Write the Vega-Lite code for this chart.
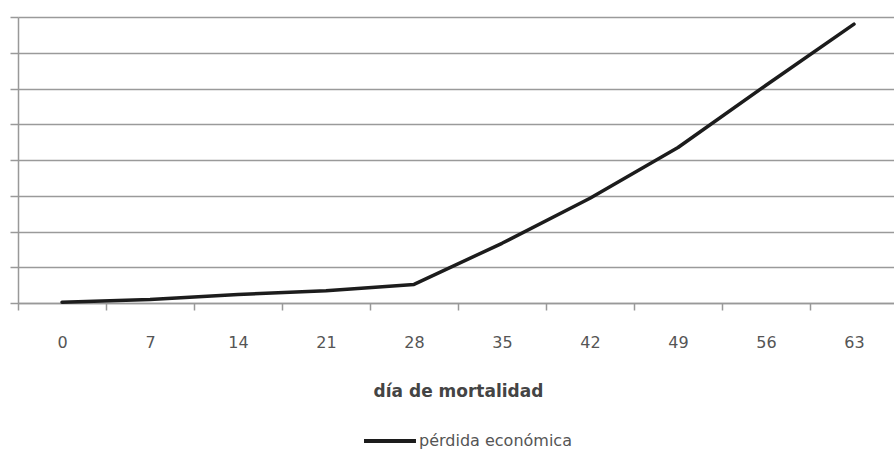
{
  "$schema": "https://vega.github.io/schema/vega-lite/v6.json",
  "width": 880,
  "height": 286,
  "autosize": {"type": "none"},
  "padding": {"left": 18, "top": 17, "right": 0, "bottom": 146},
  "background": "white",
  "data": {
    "values": [
      {"dia": 0, "perdida": 0.02, "serie": "pérdida económica"},
      {"dia": 7, "perdida": 0.1, "serie": "pérdida económica"},
      {"dia": 14, "perdida": 0.24, "serie": "pérdida económica"},
      {"dia": 21, "perdida": 0.34, "serie": "pérdida económica"},
      {"dia": 28, "perdida": 0.52, "serie": "pérdida económica"},
      {"dia": 35, "perdida": 1.67, "serie": "pérdida económica"},
      {"dia": 42, "perdida": 2.93, "serie": "pérdida económica"},
      {"dia": 49, "perdida": 4.35, "serie": "pérdida económica"},
      {"dia": 56, "perdida": 6.09, "serie": "pérdida económica"},
      {"dia": 63, "perdida": 7.8, "serie": "pérdida económica"}
    ]
  },
  "config": {
    "view": {"stroke": null},
    "font": "DejaVu Sans"
  },
  "mark": {"type": "line", "strokeWidth": 3.5, "strokeCap": "round", "strokeJoin": "round"},
  "encoding": {
    "x": {
      "field": "dia",
      "type": "ordinal",
      "scale": {"type": "band", "paddingInner": 0, "paddingOuter": 0},
      "axis": {
        "title": "día de mortalidad",
        "labelAngle": 0,
        "tickBand": "extent",
        "grid": false,
        "domainColor": "#999999",
        "domainWidth": 1.5,
        "tickColor": "#999999",
        "tickWidth": 1.5,
        "tickSize": 7,
        "labelPadding": 24,
        "labelFont": "DejaVu Sans",
        "labelFontSize": 16,
        "labelColor": "#555555",
        "titleFont": "DejaVu Sans",
        "titleFontSize": 17,
        "titleFontWeight": "bold",
        "titleColor": "#444444",
        "titlePadding": 33
      }
    },
    "y": {
      "field": "perdida",
      "type": "quantitative",
      "scale": {"domain": [0, 8], "nice": false},
      "axis": {
        "title": null,
        "labels": false,
        "values": [0, 1, 2, 3, 4, 5, 6, 7, 8],
        "grid": true,
        "gridColor": "#9a9a9a",
        "gridWidth": 1.5,
        "domainColor": "#999999",
        "domainWidth": 1.5,
        "tickColor": "#999999",
        "tickWidth": 1.5,
        "tickSize": 8
      }
    },
    "color": {
      "field": "serie",
      "type": "nominal",
      "scale": {"range": ["#1c1c1c"]},
      "legend": {
        "title": null,
        "orient": "none",
        "legendX": 344,
        "legendY": 396,
        "symbolType": "stroke",
        "symbolSize": 2700,
        "symbolStrokeWidth": 4,
        "labelFont": "DejaVu Sans",
        "labelFontSize": 16,
        "labelColor": "#555555",
        "labelOffset": 1
      }
    }
  }
}
